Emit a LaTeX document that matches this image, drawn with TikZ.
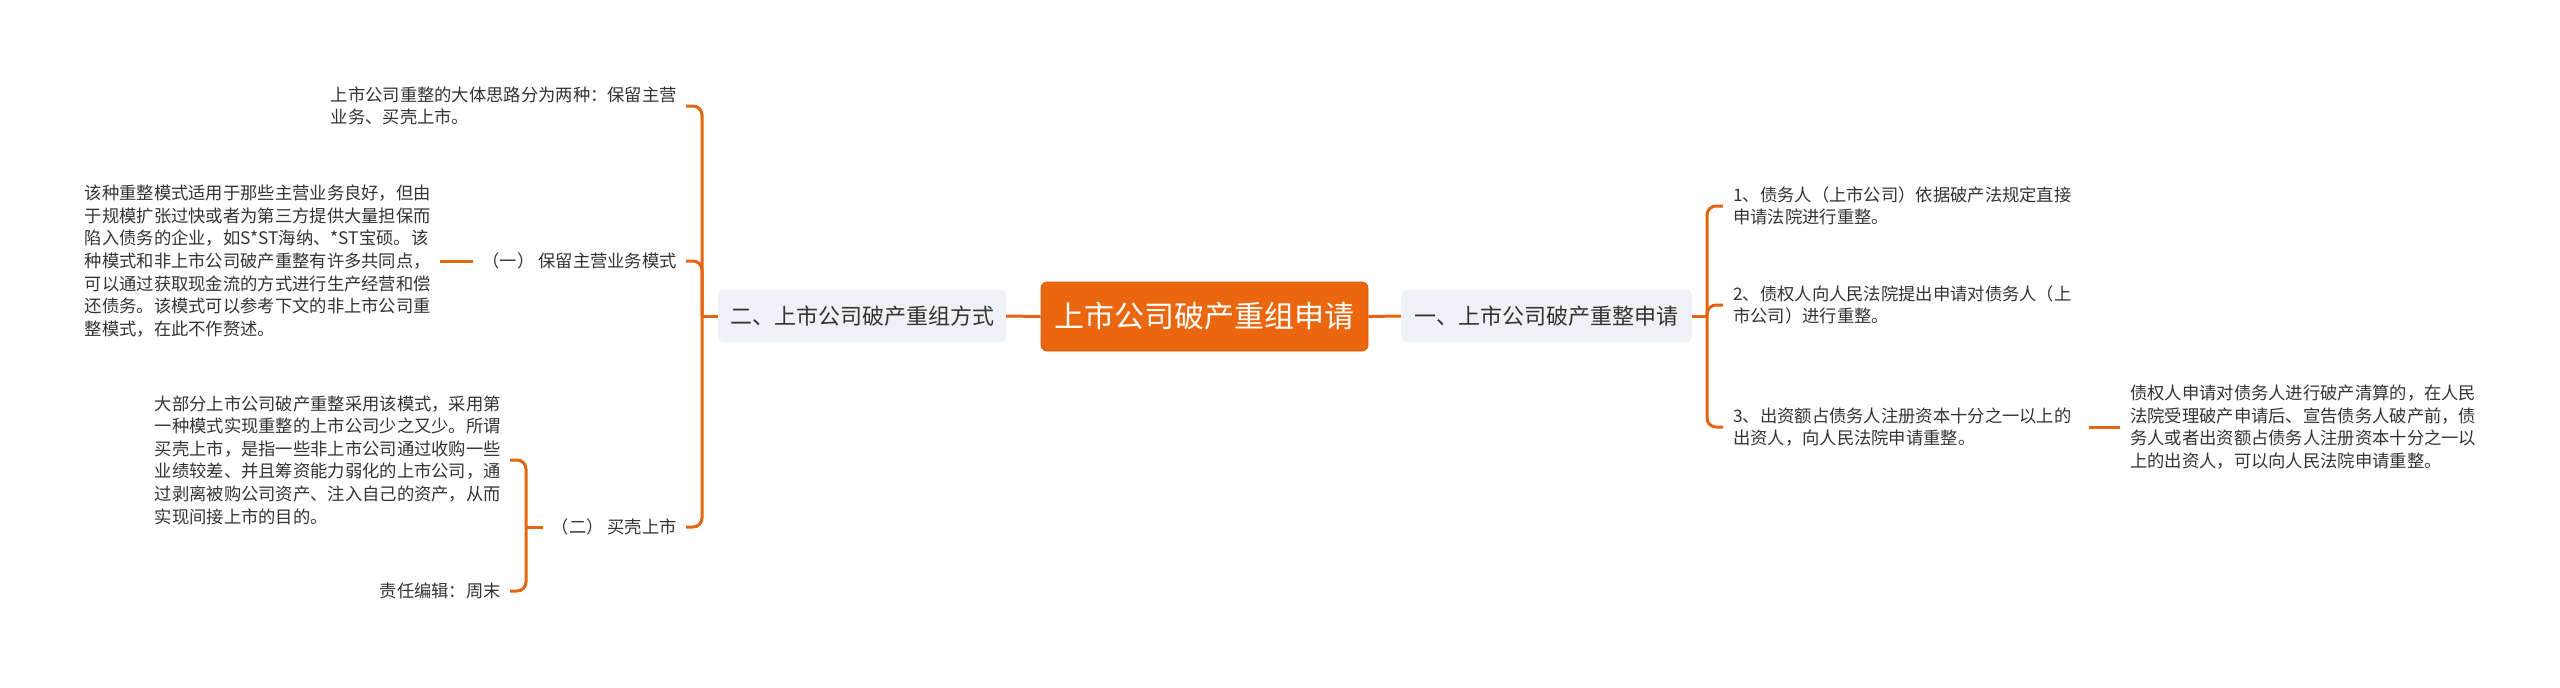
\documentclass[tikz,border=0pt]{standalone}
\usepackage{fontspec}
\setmainfont{Noto Sans CJK SC}
\definecolor{lineor}{RGB}{228,100,16}
\definecolor{rootc}{RGB}{234,103,15}
\definecolor{rootb}{RGB}{214,92,10}
\definecolor{lvlfill}{RGB}{238,241,245}
\definecolor{txtc}{RGB}{51,51,51}
\begin{document}
\begin{tikzpicture}[x=1pt,y=-1pt,
  conn/.style={draw=lineor, line width=3pt, rounded corners=9pt},
  txt/.style={font=\fontsize{17.3}{22.6}\selectfont, text=txtc, align=left, inner xsep=9pt, inner ysep=2pt},
  lvlone/.style={fill=lvlfill, rounded corners=6pt, font=\fontsize{22}{26}\selectfont, text=txtc, minimum height=52pt, inner sep=0pt},
  rootnode/.style={fill=rootc, draw=rootb, line width=0.8pt, rounded corners=6pt, text=white, font=\fontsize{30}{34}\selectfont, minimum width=327pt, minimum height=69pt, inner sep=0pt}]
\useasboundingbox (0,0) rectangle (2560,688);

% root and level one
\node[rootnode] (root) at (1204.5,316.5) {上市公司破产重组申请};
\node[lvlone, minimum width=288pt] (L) at (862,316) {二、上市公司破产重组方式};
\node[lvlone, minimum width=291pt] (R) at (1546.5,316) {一、上市公司破产重整申请};

% left children
\node[txt, anchor=east] (a) at (686,106) {上市公司重整的大体思路分为两种：保留主营\\业务、买壳上市。};
\node[txt, anchor=east] (b) at (686,261) {（一） 保留主营业务模式};
\node[txt, anchor=east] (c) at (686,527) {（二） 买壳上市};
\node[txt, anchor=east] (p1) at (440,261) {该种重整模式适用于那些主营业务良好，但由\\于规模扩张过快或者为第三方提供大量担保而\\陷入债务的企业，如S*ST海纳、*ST宝硕。该\\种模式和非上市公司破产重整有许多共同点，\\可以通过获取现金流的方式进行生产经营和偿\\还债务。该模式可以参考下文的非上市公司重\\整模式，在此不作赘述。};
\node[txt, anchor=east] (p2) at (510,460) {大部分上市公司破产重整采用该模式，采用第\\一种模式实现重整的上市公司少之又少。所谓\\买壳上市，是指一些非上市公司通过收购一些\\业绩较差、并且筹资能力弱化的上市公司，通\\过剥离被购公司资产、注入自己的资产，从而\\实现间接上市的目的。};
\node[txt, anchor=east] (d) at (510,591) {责任编辑：周末};

% right children
\node[txt, anchor=west, inner xsep=10pt] (r1) at (1723,206) {1、债务人（上市公司）依据破产法规定直接\\申请法院进行重整。};
\node[txt, anchor=west, inner xsep=10pt] (r2) at (1723,305) {2、债权人向人民法院提出申请对债务人（上\\市公司）进行重整。};
\node[txt, anchor=west, inner xsep=10pt] (r3) at (1723,427) {3、出资额占债务人注册资本十分之一以上的\\出资人，向人民法院申请重整。};
\node[txt, anchor=west, inner xsep=10pt] (f) at (2120,427) {债权人申请对债务人进行破产清算的，在人民\\法院受理破产申请后、宣告债务人破产前，债\\务人或者出资额占债务人注册资本十分之一以\\上的出资人，可以向人民法院申请重整。};

% spine coordinates
\coordinate (sL) at (702,316);
\coordinate (sR) at (1707,316);
\coordinate (sC) at (526,527);

% connectors
\draw[conn] (root.west) -- (L.east);
\draw[conn] (root.east) -- (R.west);

\draw[conn] (L.west) -- (sL);
\draw[conn] (a.east) -| (sL) |- (c.east);
\draw[conn] (b.east) -| (sL);
\draw[conn] (p1.east) -- (b.west);

\draw[conn] (c.west) -- (sC);
\draw[conn] (p2.east) -| (sC) |- (d.east);

\draw[conn] (R.east) -- (sR);
\draw[conn] (r1.west) -| (sR) |- (r3.west);
\draw[conn] (r2.west) -| (sR);
\draw[conn, shorten <=7pt] (r3.east) -- (f.west);
\end{tikzpicture}
\end{document}
